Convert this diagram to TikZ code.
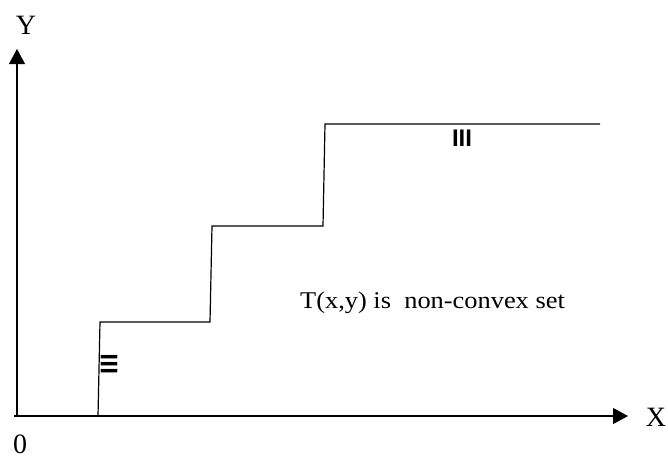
\documentclass[tikz,border=0pt]{standalone}
\usepackage{fontspec}
\setmainfont{Liberation Serif}
\newfontfamily\arialfont{Liberation Sans}
\newfontfamily\capfont[FakeStretch=1.1]{Liberation Serif}
\usetikzlibrary{arrows.meta}
\tikzset{
  axisline/.style={line width=1.1pt, -{Triangle[length=15pt,width=16pt]}},
  stairline/.style={line width=1.2pt, line join=miter},
  axislabel/.style={font=\fontsize{28}{30}\selectfont, inner sep=0pt},
  regionmark/.style={font=\arialfont\bfseries\fontsize{24}{26}\selectfont, inner sep=0pt},
}
\begin{document}
\begin{tikzpicture}[x=1pt, y=-1pt]
  \useasboundingbox (0,0) rectangle (668,459);
  % axes
  \coordinate (o) at (17,416);
  \coordinate (xstart) at (14,416);
  \coordinate (ytip) at (17,49);
  \coordinate (xtip) at (628,416);
  \draw[axisline] (o) -- (ytip);
  \draw[axisline] (xstart) -- (xtip);
  \node[axislabel] (ylab) at (26,25) {Y};
  \node[axislabel] (xlab) at (656,417) {X};
  \node[axislabel] (zero) at (20,444) {0};
  % staircase
  \coordinate (s0) at (98,416);
  \coordinate (s1) at (100,322);
  \coordinate (s2) at (210,322);
  \coordinate (s3) at (212,226);
  \coordinate (s4) at (323,226);
  \coordinate (s5) at (325,124);
  \coordinate (s6) at (600,124);
  \draw[stairline] (s0) -- (s1) -- (s2) -- (s3) -- (s4) -- (s5) -- (s6);
  % region marks
  \node[regionmark] (r3) at (462,138) {III};
  \node[regionmark, rotate=90] (r1) at (109,364) {III};
  % caption
  \node[anchor=base west, inner sep=0pt, font=\capfont\fontsize{24}{26}\selectfont] (cap) at (300,308) {T(x,y) is\ \ non-convex set};
\end{tikzpicture}
\end{document}
